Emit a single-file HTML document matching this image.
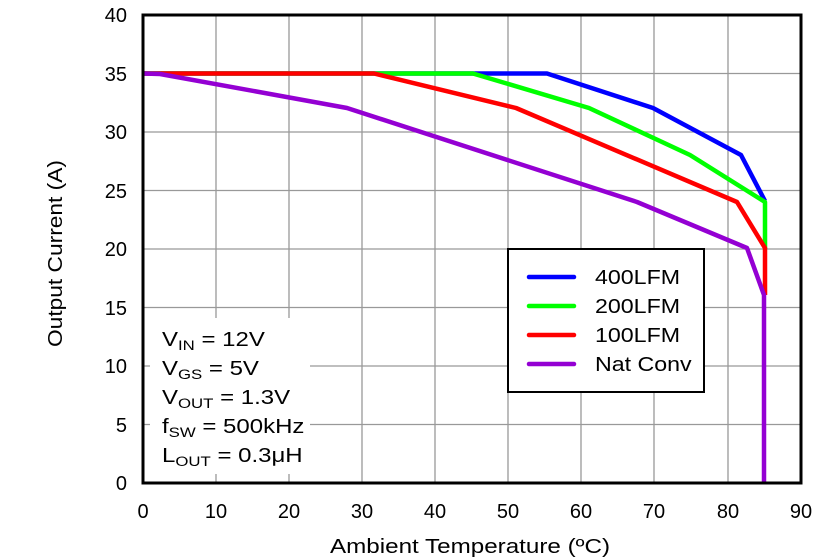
<!DOCTYPE html>
<html><head><meta charset="utf-8"><style>body{margin:0;background:#fff}svg{display:block}text{font-family:"Liberation Sans",Arial,sans-serif;font-size:20px;fill:#000}</style></head><body>
<svg width="839" height="559" viewBox="0 0 839 559">
<g stroke="#999" stroke-width="1.3">
<line x1="216" y1="15" x2="216" y2="483"/><line x1="289" y1="15" x2="289" y2="483"/><line x1="362" y1="15" x2="362" y2="483"/><line x1="435" y1="15" x2="435" y2="483"/><line x1="508" y1="15" x2="508" y2="483"/><line x1="581" y1="15" x2="581" y2="483"/><line x1="654" y1="15" x2="654" y2="483"/><line x1="728" y1="15" x2="728" y2="483"/>
<line x1="143" y1="73.5" x2="801" y2="73.5"/><line x1="143" y1="132" x2="801" y2="132"/><line x1="143" y1="190.5" x2="801" y2="190.5"/><line x1="143" y1="249" x2="801" y2="249"/><line x1="143" y1="307.5" x2="801" y2="307.5"/><line x1="143" y1="366" x2="801" y2="366"/><line x1="143" y1="424.5" x2="801" y2="424.5"/>
</g>
<rect x="150" y="318" width="160" height="156" fill="#fff"/>
<g fill="none" stroke-width="4.5" stroke-linejoin="round">
<polyline stroke="#0000ff" points="143,73.5 547,73.5 653,108 741,155 765,201"/>
<polyline stroke="#00ff00" points="143,73.5 473,73.5 589,108 690,155 765,202 765,249"/>
<polyline stroke="#ff0000" points="143,73.5 374,73.5 516,108 737,202 765,248 765,295"/>
<polyline stroke="#9400d3" points="143,73.5 160,74 347,108 637,202 747,248 764,295 764,483"/>
</g>
<rect x="143" y="15" width="658" height="468" fill="none" stroke="#000" stroke-width="3"/>
<rect x="508" y="249" width="196" height="143" fill="#fff" stroke="#000" stroke-width="2"/>
<g stroke-width="4.5" stroke-linecap="round">
<line x1="529" y1="277" x2="574" y2="277" stroke="#0000ff"/><line x1="529" y1="306" x2="574" y2="306" stroke="#00ff00"/><line x1="529" y1="335" x2="574" y2="335" stroke="#ff0000"/><line x1="529" y1="364" x2="574" y2="364" stroke="#9400d3"/>
</g>
<g transform="translate(595,0) scale(1.16,1) translate(-595,0)">
<text x="595" y="284">400LFM</text><text x="595" y="313">200LFM</text><text x="595" y="342">100LFM</text><text x="595" y="371">Nat Conv</text>
</g>
<g transform="translate(162,0) scale(1.2,1) translate(-162,0)">
<text x="162" y="346">V<tspan font-size="14" dy="4">IN</tspan><tspan dy="-4"> = 12V</tspan></text>
<text x="162" y="375">V<tspan font-size="14" dy="4">GS</tspan><tspan dy="-4"> = 5V</tspan></text>
<text x="162" y="404">V<tspan font-size="14" dy="4">OUT</tspan><tspan dy="-4"> = 1.3V</tspan></text>
<text x="162" y="433">f<tspan font-size="14" dy="4">SW</tspan><tspan dy="-4"> = 500kHz</tspan></text>
<text x="162" y="462">L<tspan font-size="14" dy="4">OUT</tspan><tspan dy="-4"> = 0.3μH</tspan></text>
</g>
<g text-anchor="end">
<text x="127" y="22">40</text><text x="127" y="81">35</text><text x="127" y="139">30</text><text x="127" y="198">25</text><text x="127" y="256">20</text><text x="127" y="315">15</text><text x="127" y="373">10</text><text x="127" y="432">5</text><text x="127" y="490">0</text>
</g>
<g text-anchor="middle">
<text x="143" y="518">0</text><text x="216" y="518">10</text><text x="289" y="518">20</text><text x="362" y="518">30</text><text x="435" y="518">40</text><text x="508" y="518">50</text><text x="581" y="518">60</text><text x="654" y="518">70</text><text x="728" y="518">80</text><text x="801" y="518">90</text>
</g>
<text x="330" y="553" textLength="280" lengthAdjust="spacingAndGlyphs">Ambient Temperature (ºC)</text>
<text transform="translate(62,347) rotate(-90)" x="0" y="0" textLength="187" lengthAdjust="spacingAndGlyphs">Output Current (A)</text>
</svg>
</body></html>
